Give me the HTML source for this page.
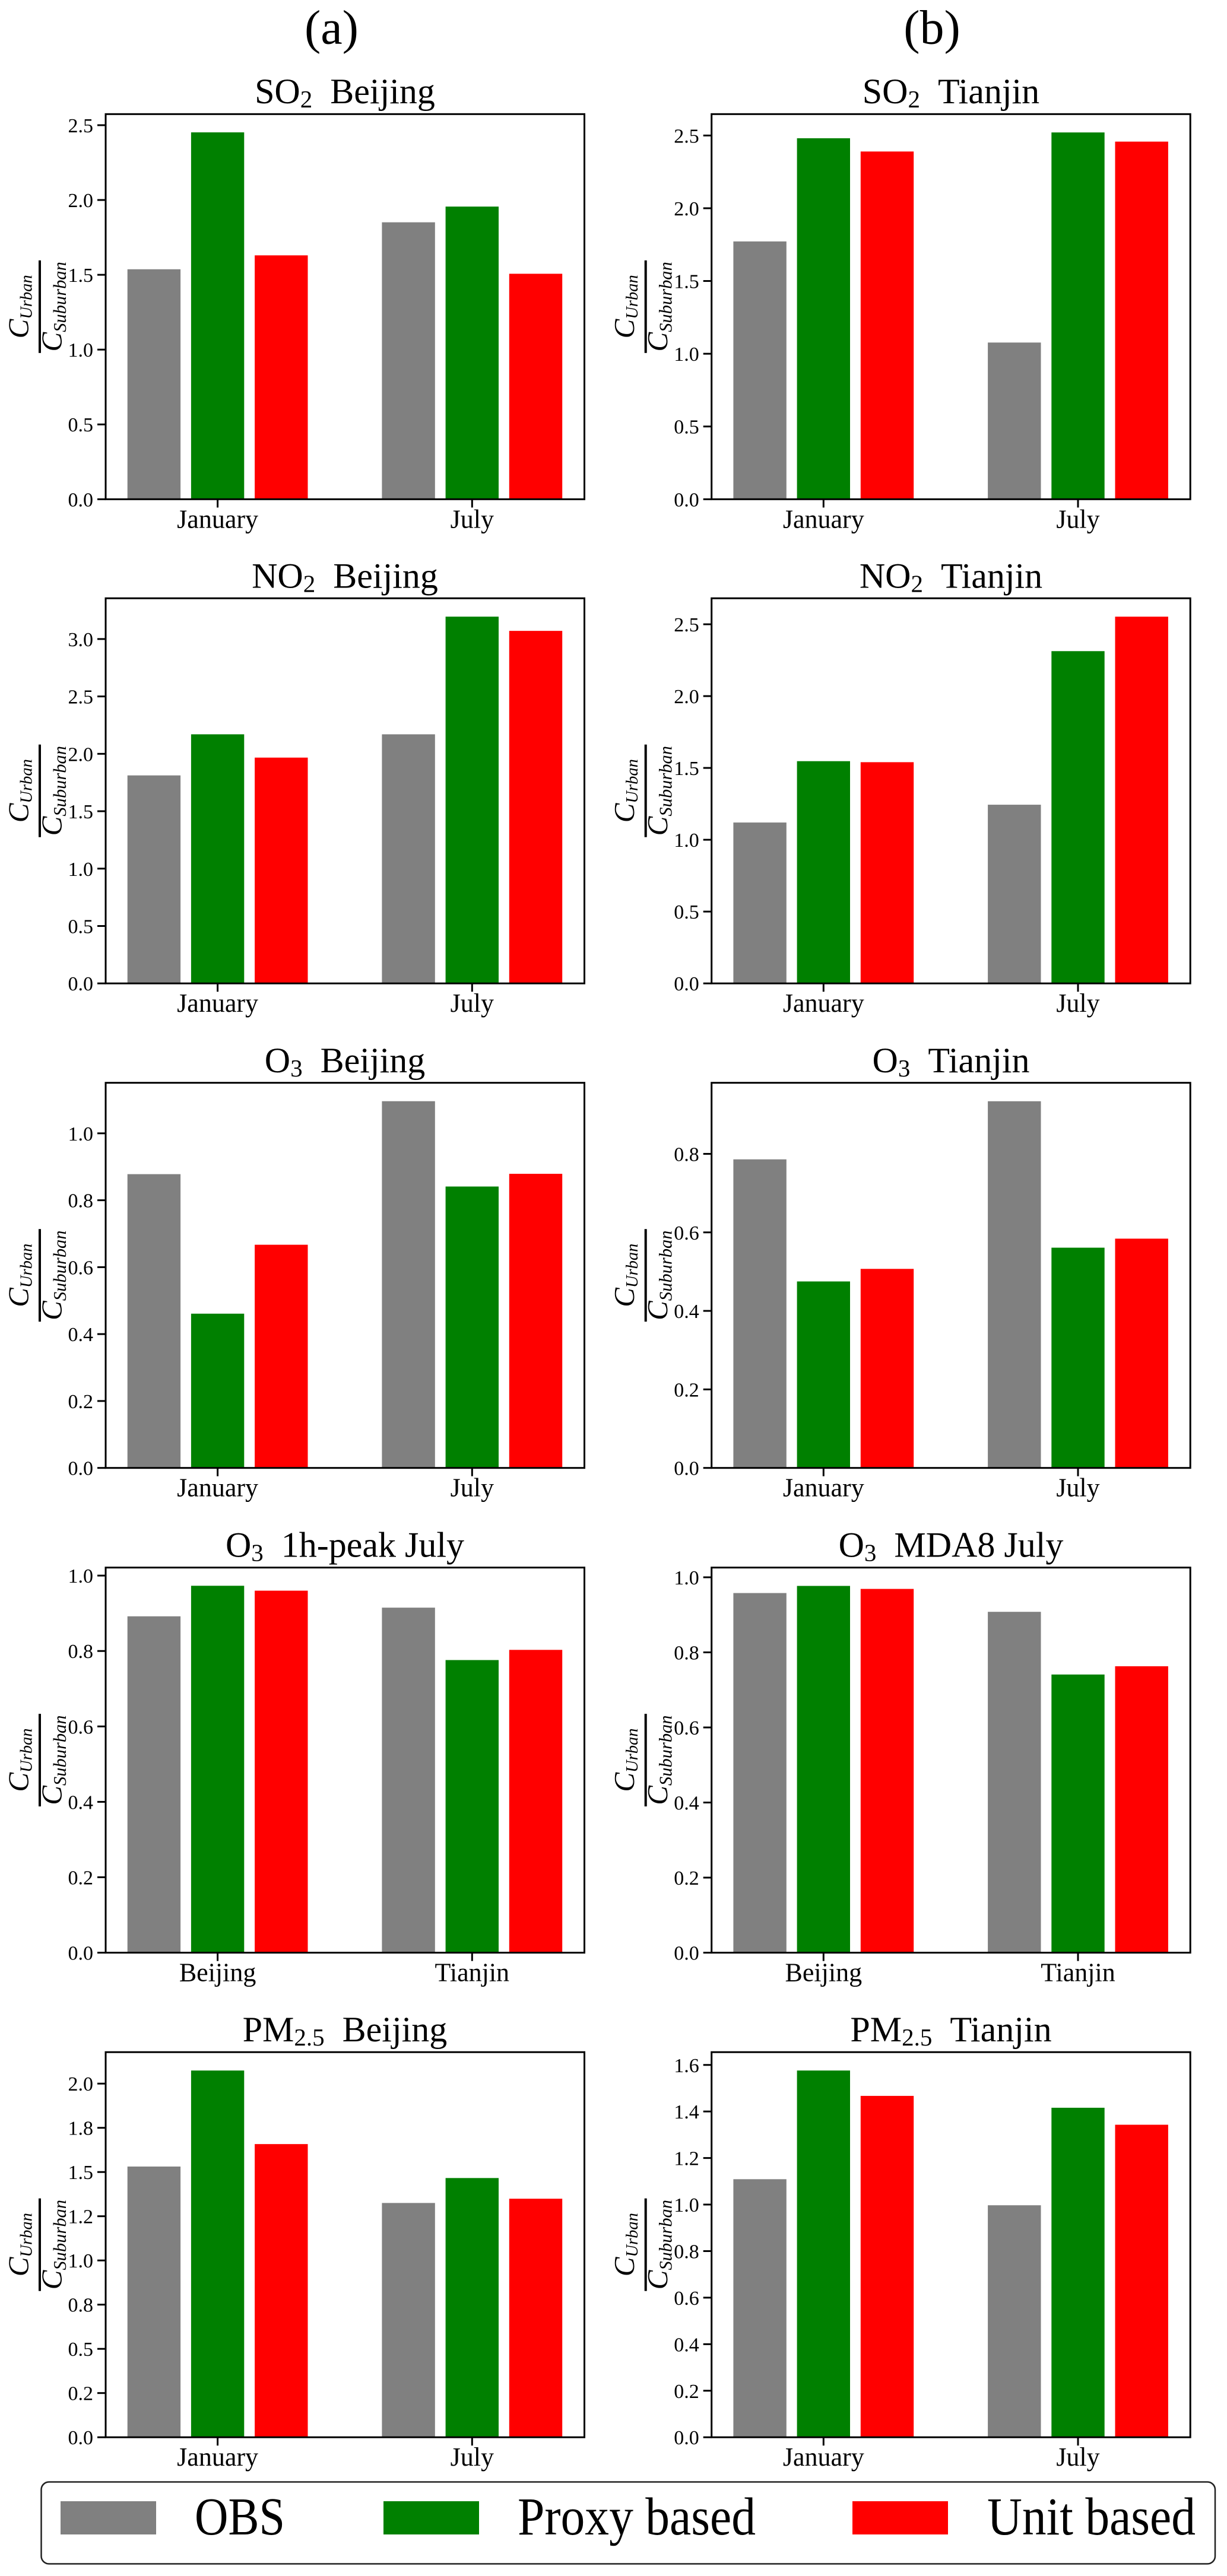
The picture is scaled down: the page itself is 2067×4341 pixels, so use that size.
<!DOCTYPE html>
<html lang="en">
<head>
<meta charset="utf-8">
<title>Urban to suburban concentration ratios, Beijing and Tianjin</title>
<style>
  html, body { margin: 0; padding: 0; background: #fff; width: 2067px; height: 4341px; overflow: hidden; }
  svg { display: block; }
  text { font-family: "Liberation Serif", serif; fill: #000; }
  .col-head { font-size: 82px; text-anchor: middle; }
  .title { font-size: 60px; text-anchor: middle; }
  .sub { font-size: 41px; }
  .ylab { font-style: italic; text-anchor: middle; }
  .ylab .c { font-size: 49px; }
  .ylab .s { font-size: 28.5px; }
  .ylab .d { font-size: 30.5px; }
  .ytick { font-size: 34px; text-anchor: end; }
  .xtick { font-size: 44px; text-anchor: middle; }
  .legend-text { font-size: 90px; }
</style>
</head>
<body>
<svg id="figure" xmlns="http://www.w3.org/2000/svg" width="2067" height="4341" viewBox="0 0 2067 4341">
  <rect x="0" y="0" width="2067" height="4341" fill="#fff"/>

  <text class="col-head" x="558.5" y="73.5">(a)</text>
  <text class="col-head" x="1570" y="73.5">(b)</text>

  <text class="title" x="581" y="174">SO<tspan class="sub" dy="7">2</tspan><tspan dy="-7">&#160;&#160;Beijing</tspan></text>
  <text class="title" x="1602" y="174">SO<tspan class="sub" dy="7">2</tspan><tspan dy="-7">&#160;&#160;Tianjin</tspan></text>
  <text class="title" x="581" y="990.5">NO<tspan class="sub" dy="7">2</tspan><tspan dy="-7">&#160;&#160;Beijing</tspan></text>
  <text class="title" x="1602" y="990.5">NO<tspan class="sub" dy="7">2</tspan><tspan dy="-7">&#160;&#160;Tianjin</tspan></text>
  <text class="title" x="581" y="1807">O<tspan class="sub" dy="7">3</tspan><tspan dy="-7">&#160;&#160;Beijing</tspan></text>
  <text class="title" x="1602" y="1807">O<tspan class="sub" dy="7">3</tspan><tspan dy="-7">&#160;&#160;Tianjin</tspan></text>
  <text class="title" x="581" y="2623.5">O<tspan class="sub" dy="7">3</tspan><tspan dy="-7">&#160;&#160;1h-peak July</tspan></text>
  <text class="title" x="1602" y="2623.5">O<tspan class="sub" dy="7">3</tspan><tspan dy="-7">&#160;&#160;MDA8 July</tspan></text>
  <text class="title" x="581" y="3440">PM<tspan class="sub" dy="7">2.5</tspan><tspan dy="-7">&#160;&#160;Beijing</tspan></text>
  <text class="title" x="1602" y="3440">PM<tspan class="sub" dy="7">2.5</tspan><tspan dy="-7">&#160;&#160;Tianjin</tspan></text>

  <g transform="translate(67,516.8) rotate(-90)"><text class="ylab" y="-19.5"><tspan class="c">C</tspan><tspan class="s" dy="6">Urban</tspan></text><rect x="-78" y="-2" width="156" height="4" fill="#000"/><text class="ylab" y="36.5"><tspan class="c">C</tspan><tspan class="d" dy="7.5">Suburban</tspan></text></g>
  <g transform="translate(1087.7,516.8) rotate(-90)"><text class="ylab" y="-19.5"><tspan class="c">C</tspan><tspan class="s" dy="6">Urban</tspan></text><rect x="-78" y="-2" width="156" height="4" fill="#000"/><text class="ylab" y="36.5"><tspan class="c">C</tspan><tspan class="d" dy="7.5">Suburban</tspan></text></g>
  <g transform="translate(67,1332.7) rotate(-90)"><text class="ylab" y="-19.5"><tspan class="c">C</tspan><tspan class="s" dy="6">Urban</tspan></text><rect x="-78" y="-2" width="156" height="4" fill="#000"/><text class="ylab" y="36.5"><tspan class="c">C</tspan><tspan class="d" dy="7.5">Suburban</tspan></text></g>
  <g transform="translate(1087.7,1332.7) rotate(-90)"><text class="ylab" y="-19.5"><tspan class="c">C</tspan><tspan class="s" dy="6">Urban</tspan></text><rect x="-78" y="-2" width="156" height="4" fill="#000"/><text class="ylab" y="36.5"><tspan class="c">C</tspan><tspan class="d" dy="7.5">Suburban</tspan></text></g>
  <g transform="translate(67,2149.2) rotate(-90)"><text class="ylab" y="-19.5"><tspan class="c">C</tspan><tspan class="s" dy="6">Urban</tspan></text><rect x="-78" y="-2" width="156" height="4" fill="#000"/><text class="ylab" y="36.5"><tspan class="c">C</tspan><tspan class="d" dy="7.5">Suburban</tspan></text></g>
  <g transform="translate(1087.7,2149.2) rotate(-90)"><text class="ylab" y="-19.5"><tspan class="c">C</tspan><tspan class="s" dy="6">Urban</tspan></text><rect x="-78" y="-2" width="156" height="4" fill="#000"/><text class="ylab" y="36.5"><tspan class="c">C</tspan><tspan class="d" dy="7.5">Suburban</tspan></text></g>
  <g transform="translate(67,2966.1) rotate(-90)"><text class="ylab" y="-19.5"><tspan class="c">C</tspan><tspan class="s" dy="6">Urban</tspan></text><rect x="-78" y="-2" width="156" height="4" fill="#000"/><text class="ylab" y="36.5"><tspan class="c">C</tspan><tspan class="d" dy="7.5">Suburban</tspan></text></g>
  <g transform="translate(1087.7,2966.1) rotate(-90)"><text class="ylab" y="-19.5"><tspan class="c">C</tspan><tspan class="s" dy="6">Urban</tspan></text><rect x="-78" y="-2" width="156" height="4" fill="#000"/><text class="ylab" y="36.5"><tspan class="c">C</tspan><tspan class="d" dy="7.5">Suburban</tspan></text></g>
  <g transform="translate(67,3782.7) rotate(-90)"><text class="ylab" y="-19.5"><tspan class="c">C</tspan><tspan class="s" dy="6">Urban</tspan></text><rect x="-78" y="-2" width="156" height="4" fill="#000"/><text class="ylab" y="36.5"><tspan class="c">C</tspan><tspan class="d" dy="7.5">Suburban</tspan></text></g>
  <g transform="translate(1087.7,3782.7) rotate(-90)"><text class="ylab" y="-19.5"><tspan class="c">C</tspan><tspan class="s" dy="6">Urban</tspan></text><rect x="-78" y="-2" width="156" height="4" fill="#000"/><text class="ylab" y="36.5"><tspan class="c">C</tspan><tspan class="d" dy="7.5">Suburban</tspan></text></g>

  <g id="panels"></g>

  <g>
    <rect x="69.5" y="4182.5" width="1977.5" height="138" rx="13" ry="13" fill="#fff" stroke="#222" stroke-width="2.5"/>
    <g>
      <rect x="102" y="4215" width="161" height="56" fill="#808080"/>
      <text class="legend-text" x="328" y="4271" textLength="152" lengthAdjust="spacingAndGlyphs">OBS</text>
    </g>
    <g>
      <rect x="646" y="4215" width="161" height="56" fill="#008000"/>
      <text class="legend-text" x="872" y="4271" textLength="401" lengthAdjust="spacingAndGlyphs">Proxy based</text>
    </g>
    <g>
      <rect x="1436" y="4215" width="161" height="56" fill="#ff0000"/>
      <text class="legend-text" x="1663" y="4271" textLength="351" lengthAdjust="spacingAndGlyphs">Unit based</text>
    </g>
  </g>
</svg>

<script>
// Categories
const monthCategories = ["January", "July"];
const cityCategories = ["Beijing", "Tianjin"];

// Series values (one value per category)
const so2BeijingObs = [1.537, 1.851];
const so2BeijingProxy = [2.452, 1.956];
const so2BeijingUnit = [1.630, 1.507];
const so2TianjinObs = [1.772, 1.077];
const so2TianjinProxy = [2.481, 2.521];
const so2TianjinUnit = [2.390, 2.458];
const no2BeijingObs = [1.812, 2.170];
const no2BeijingProxy = [2.170, 3.195];
const no2BeijingUnit = [1.967, 3.071];
const no2TianjinObs = [1.120, 1.244];
const no2TianjinProxy = [1.547, 2.313];
const no2TianjinUnit = [1.540, 2.553];
const o3BeijingObs = [0.878, 1.096];
const o3BeijingProxy = [0.461, 0.841];
const o3BeijingUnit = [0.667, 0.879];
const o3TianjinObs = [0.786, 0.934];
const o3TianjinProxy = [0.475, 0.561];
const o3TianjinUnit = [0.507, 0.584];
const o3PeakObs = [0.892, 0.915];
const o3PeakProxy = [0.973, 0.776];
const o3PeakUnit = [0.960, 0.803];
const o3Mda8Obs = [0.958, 0.908];
const o3Mda8Proxy = [0.977, 0.741];
const o3Mda8Unit = [0.969, 0.763];
const pmBeijingObs = [1.531, 1.325];
const pmBeijingProxy = [2.074, 1.466];
const pmBeijingUnit = [1.658, 1.349];
const pmTianjinObs = [1.109, 0.997];
const pmTianjinProxy = [1.576, 1.416];
const pmTianjinUnit = [1.467, 1.343];

// Tick values and printed tick labels
const ticksToTwoHalf = [0, 0.5, 1, 1.5, 2, 2.5];
const labelsToTwoHalf = ["0.0", "0.5", "1.0", "1.5", "2.0", "2.5"];
const ticksToThree = [0, 0.5, 1, 1.5, 2, 2.5, 3];
const labelsToThree = ["0.0", "0.5", "1.0", "1.5", "2.0", "2.5", "3.0"];
const ticksToOne = [0, 0.2, 0.4, 0.6, 0.8, 1];
const labelsToOne = ["0.0", "0.2", "0.4", "0.6", "0.8", "1.0"];
const ticksToPointEight = [0, 0.2, 0.4, 0.6, 0.8];
const labelsToPointEight = ["0.0", "0.2", "0.4", "0.6", "0.8"];
const ticksQuarter = [0, 0.25, 0.5, 0.75, 1, 1.25, 1.5, 1.75, 2];
const labelsQuarter = ["0.0", "0.2", "0.5", "0.8", "1.0", "1.2", "1.5", "1.8", "2.0"];
const ticksToOneSix = [0, 0.2, 0.4, 0.6, 0.8, 1, 1.2, 1.4, 1.6];
const labelsToOneSix = ["0.0", "0.2", "0.4", "0.6", "0.8", "1.0", "1.2", "1.4", "1.6"];

// Upper y-axis limits
const so2BeijingYMax = 2.574;
const so2TianjinYMax = 2.647;
const no2BeijingYMax = 3.355;
const no2TianjinYMax = 2.681;
const o3BeijingYMax = 1.151;
const o3TianjinYMax = 0.981;
const o3PeakYMax = 1.0213;
const o3Mda8YMax = 1.0259;
const pmBeijingYMax = 2.178;
const pmTianjinYMax = 1.655;

const seriesKeys = ["obs", "proxy-based", "unit-based"];
const seriesColors = ["#808080", "#008000", "#ff0000"];

const panels = [
  { key: "so2-beijing", col: 0, row: 0, cats: monthCategories, obs: so2BeijingObs, proxy: so2BeijingProxy, unit: so2BeijingUnit, ticks: ticksToTwoHalf, labels: labelsToTwoHalf, yMax: so2BeijingYMax },
  { key: "so2-tianjin", col: 1, row: 0, cats: monthCategories, obs: so2TianjinObs, proxy: so2TianjinProxy, unit: so2TianjinUnit, ticks: ticksToTwoHalf, labels: labelsToTwoHalf, yMax: so2TianjinYMax },
  { key: "no2-beijing", col: 0, row: 1, cats: monthCategories, obs: no2BeijingObs, proxy: no2BeijingProxy, unit: no2BeijingUnit, ticks: ticksToThree, labels: labelsToThree, yMax: no2BeijingYMax },
  { key: "no2-tianjin", col: 1, row: 1, cats: monthCategories, obs: no2TianjinObs, proxy: no2TianjinProxy, unit: no2TianjinUnit, ticks: ticksToTwoHalf, labels: labelsToTwoHalf, yMax: no2TianjinYMax },
  { key: "o3-beijing", col: 0, row: 2, cats: monthCategories, obs: o3BeijingObs, proxy: o3BeijingProxy, unit: o3BeijingUnit, ticks: ticksToOne, labels: labelsToOne, yMax: o3BeijingYMax },
  { key: "o3-tianjin", col: 1, row: 2, cats: monthCategories, obs: o3TianjinObs, proxy: o3TianjinProxy, unit: o3TianjinUnit, ticks: ticksToPointEight, labels: labelsToPointEight, yMax: o3TianjinYMax },
  { key: "o3-1h-peak", col: 0, row: 3, cats: cityCategories, obs: o3PeakObs, proxy: o3PeakProxy, unit: o3PeakUnit, ticks: ticksToOne, labels: labelsToOne, yMax: o3PeakYMax },
  { key: "o3-mda8", col: 1, row: 3, cats: cityCategories, obs: o3Mda8Obs, proxy: o3Mda8Proxy, unit: o3Mda8Unit, ticks: ticksToOne, labels: labelsToOne, yMax: o3Mda8YMax },
  { key: "pm25-beijing", col: 0, row: 4, cats: monthCategories, obs: pmBeijingObs, proxy: pmBeijingProxy, unit: pmBeijingUnit, ticks: ticksQuarter, labels: labelsQuarter, yMax: pmBeijingYMax },
  { key: "pm25-tianjin", col: 1, row: 4, cats: monthCategories, obs: pmTianjinObs, proxy: pmTianjinProxy, unit: pmTianjinUnit, ticks: ticksToOneSix, labels: labelsToOneSix, yMax: pmTianjinYMax }
];

// Layout
const plotLefts = [178, 1198.7];
const plotTops = [192.3, 1008.2, 1824.7, 2641.6, 3458.2];
const plotWidth = 806.5;
const plotHeight = 649;
const firstGroupOffset = 188.6;
const groupSpacing = 428.7;
const barStep = 107.2;
const barWidth = 89.4;
const tickLength = 14;

const SVG_NS = "http://www.w3.org/2000/svg";

function make(parent, tag, attrs, text) {
  const el = document.createElementNS(SVG_NS, tag);
  for (const k in attrs) el.setAttribute(k, attrs[k]);
  if (text !== undefined) el.textContent = text;
  parent.appendChild(el);
  return el;
}

function xAxis(left, categoryIndex) {
  return left + firstGroupOffset + categoryIndex * groupSpacing;
}

function yAxis(top, yMax, value) {
  return top + plotHeight - (value / yMax) * plotHeight;
}

const root = document.getElementById("panels");

panels.forEach(function (p) {
  const left = plotLefts[p.col];
  const top = plotTops[p.row];
  const bottom = top + plotHeight;
  const seriesValues = [p.obs, p.proxy, p.unit];

  const g = make(root, "g", {});
  
  

  seriesValues.forEach(function (values, s) {
    values.forEach(function (v, c) {
      const cx = xAxis(left, c) + (s - 1) * barStep;
      const yTop = yAxis(top, p.yMax, v);
      const bar = make(g, "rect", {
        x: cx - barWidth / 2,
        y: yTop,
        width: barWidth,
        height: bottom - yTop,
        fill: seriesColors[s]
      });
      
      
    });
  });

  p.ticks.forEach(function (t, i) {
    const y = yAxis(top, p.yMax, t);
    const tick = make(g, "line", { x1: left - tickLength, x2: left, y1: y, y2: y, stroke: "#000", "stroke-width": 3 });
    
    
    const label = make(g, "text", { class: "ytick", x: left - 21, y: y + 12 }, p.labels[i]);
    
    
  });

  p.cats.forEach(function (name, c) {
    const x = xAxis(left, c);
    const tick = make(g, "line", { x1: x, x2: x, y1: bottom, y2: bottom + tickLength, stroke: "#000", "stroke-width": 3 });
    
    
    const label = make(g, "text", { class: "xtick", x: x, y: bottom + 48 }, name);
    
    
  });

  const frame = make(g, "rect", { x: left, y: top, width: plotWidth, height: plotHeight, fill: "none", stroke: "#000", "stroke-width": 3 });
  
  
});
</script>
</body>
</html>
